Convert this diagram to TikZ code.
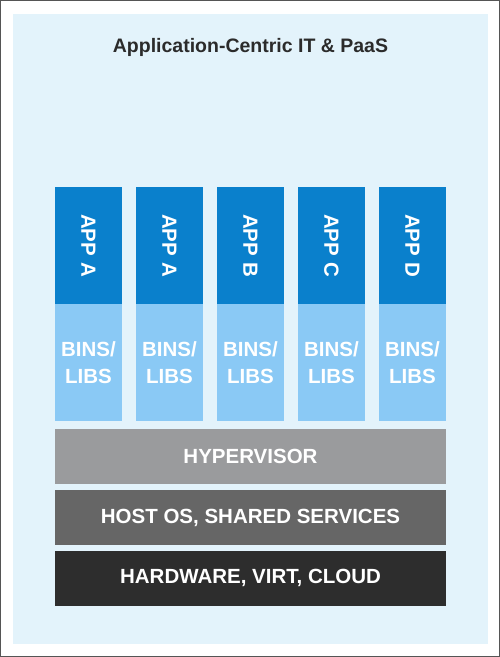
\documentclass[tikz,border=0pt]{standalone}
\usepackage{fontspec}
\setmainfont{Liberation Sans}
\definecolor{PanelFill}{HTML}{E3F3FB}
\definecolor{AppFill}{HTML}{0A80CC}
\definecolor{BinsFill}{HTML}{8AC9F5}
\definecolor{HyperFill}{HTML}{9A9B9D}
\definecolor{HostFill}{HTML}{666666}
\definecolor{HardFill}{HTML}{2D2D2D}
\definecolor{TitleText}{HTML}{2B2B2B}
\definecolor{FrameLine}{HTML}{555555}

\begin{document}
\begin{tikzpicture}[x=1pt, y=-1pt,
    layerbox/.style={rectangle, inner sep=0pt, minimum width=391pt, minimum height=55pt,
        text=white, font=\bfseries\fontsize{20.5}{27}\selectfont},
    appbox/.style={rectangle, inner sep=0pt, minimum width=117pt, minimum height=67pt,
        rotate=-90, fill=AppFill, text=white, font=\bfseries\fontsize{20.5}{27}\selectfont},
    binsbox/.style={rectangle, inner sep=0pt, minimum width=67pt, minimum height=117pt,
        fill=BinsFill, text=white, align=center, font=\bfseries\fontsize{20.5}{27}\selectfont}]

    % frame and panel
    \draw [line width=1pt, FrameLine] (0.5,0.5) rectangle (499.5,656.5);
    \fill [PanelFill] (13,14) rectangle (488,644);

    \node [anchor=base, text=TitleText, font=\bfseries\fontsize{19.5}{24}\selectfont] (title) at (250.5,52) {Application-Centric IT \& PaaS};

    % applications
    \node [appbox] (appA) at (88.5,245.5) {APP A};
    \node [appbox] (appAA) at (169.5,245.5) {APP A};
    \node [appbox] (appB) at (250.5,245.5) {APP B};
    \node [appbox] (appC) at (331.5,245.5) {APP C};
    \node [appbox] (appD) at (412.5,245.5) {APP D};

    % bins and libs
    \node [binsbox] (binsA) at (88.5,362.5) {BINS/\\LIBS};
    \node [binsbox] (binsAA) at (169.5,362.5) {BINS/\\LIBS};
    \node [binsbox] (binsB) at (250.5,362.5) {BINS/\\LIBS};
    \node [binsbox] (binsC) at (331.5,362.5) {BINS/\\LIBS};
    \node [binsbox] (binsD) at (412.5,362.5) {BINS/\\LIBS};

    % shared layers
    \node [layerbox, fill=HyperFill] (hyper) at (250.5,456.5) {HYPERVISOR};
    \node [layerbox, fill=HostFill] (host) at (250.5,517.5) {HOST OS, SHARED SERVICES};
    \node [layerbox, fill=HardFill] (hard) at (250.5,578) {HARDWARE, VIRT, CLOUD};

\end{tikzpicture}
\end{document}
